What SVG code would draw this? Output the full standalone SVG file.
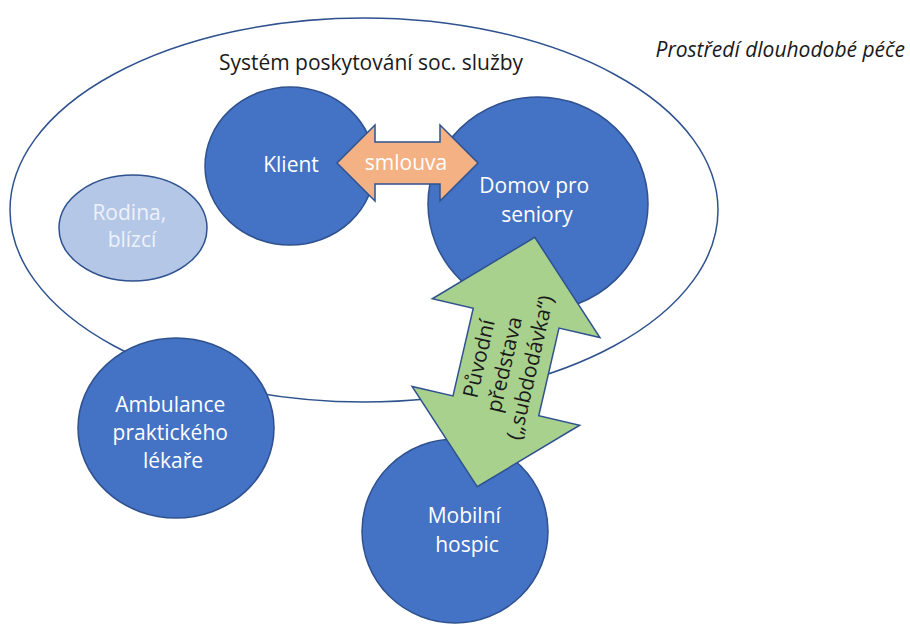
<svg xmlns="http://www.w3.org/2000/svg" width="910" height="626" viewBox="0 0 910 626">
  <style>
    .node { fill: #4472C4; stroke: #2F528F; stroke-width: 1.5; }
    .light { fill: #B4C7E7; stroke: #2F528F; stroke-width: 1.5; }
    .label { font-family: "Open Sans", "Liberation Sans", sans-serif; font-size: 21px; fill: #FFFFFF; text-anchor: middle; }
    .dark { font-family: "Open Sans", "Liberation Sans", sans-serif; font-size: 21px; fill: #1A1A1A; }
  </style>
  <rect width="910" height="626" fill="#FFFFFF"/>

  <!-- outer system boundary -->
  <g id="system">
    <ellipse cx="364" cy="210" rx="354" ry="192" fill="none" stroke="#2F528F" stroke-width="1.5"/>
    <text class="dark" x="371" y="70" text-anchor="middle">Systém poskytování soc. služby</text>
  </g>

  <text class="dark" x="905" y="57" text-anchor="end" font-style="italic" font-size="22">Prostředí dlouhodobé péče</text>

  <g id="rodina">
    <ellipse class="light" cx="133" cy="228" rx="74" ry="53"/>
    <text class="label" style="fill:#EEF2FA">
      <tspan x="132" y="220">Rodina,</tspan>
      <tspan x="132" y="247">blízcí</tspan>
    </text>
  </g>

  <g id="klient">
    <ellipse class="node" cx="290" cy="166" rx="85" ry="79"/>
    <text class="label" x="291" y="172">Klient</text>
  </g>

  <g id="domov">
    <ellipse class="node" cx="538" cy="204" rx="110" ry="107"/>
    <text class="label">
      <tspan x="537" y="193">Domov pro</tspan>
      <tspan x="537" y="222">seniory</tspan>
    </text>
  </g>

  <g id="ambulance">
    <ellipse class="node" cx="176" cy="428" rx="98" ry="90"/>
    <text class="label">
      <tspan x="173" y="412">Ambulance</tspan>
      <tspan x="173" y="440">praktického</tspan>
      <tspan x="173" y="468">lékaře</tspan>
    </text>
  </g>

  <g id="hospic">
    <ellipse class="node" cx="455" cy="531" rx="93" ry="92"/>
    <text class="label">
      <tspan x="467" y="523">Mobilní</tspan>
      <tspan x="467" y="552">hospic</tspan>
    </text>
  </g>

  <!-- relationship arrows -->
  <g id="connectors">
    <g id="smlouva">
      <polygon points="337,163 375,125 375,142 440,142 440,125 478,163 440,201 440,184 375,184 375,201" fill="#F4B183" stroke="#2F528F" stroke-width="1.5"/>
      <text class="label" x="406" y="170">smlouva</text>
    </g>
    <g id="subdodavka" transform="translate(506,362) rotate(13)">
      <polygon points="0,-128 86,-45 44,-45 44,45 86,45 0,128 -86,45 -44,45 -44,-45 -86,-45" fill="#A9D18E" stroke="#2F528F" stroke-width="1.5"/>
      <g transform="rotate(-90)">
        <text class="dark" text-anchor="middle" font-size="20">
          <tspan x="0" y="-20">Původní</tspan>
          <tspan x="0" y="6">představa</tspan>
          <tspan x="0" y="32">(„subdodávka“)</tspan>
        </text>
      </g>
    </g>
  </g>
</svg>
